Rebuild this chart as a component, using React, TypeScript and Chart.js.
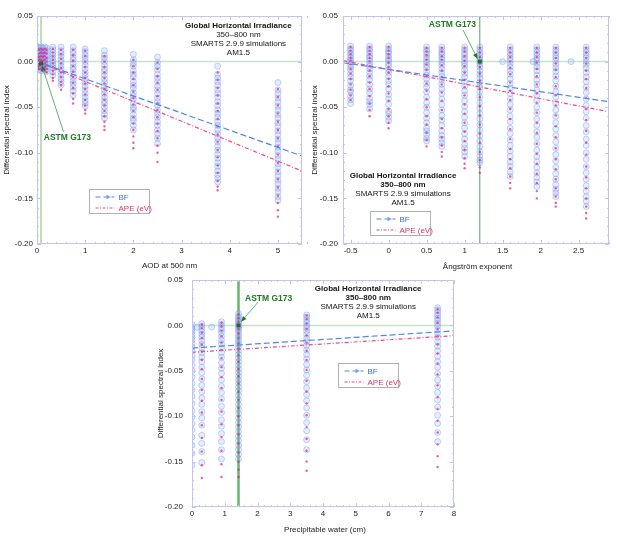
import { useEffect, useRef } from "react";
import { Chart, registerables } from "chart.js";

Chart.register(...registerables);

const FONT = '"Liberation Sans", Arial, Helvetica, sans-serif';

// ---------- shared ----------
const yTicks = [0.05, 0, -0.05, -0.1, -0.15, -0.2];
const headerLines = ["Global Horizontal Irradiance", "350–800 nm", "SMARTS 2.9.9 simulations", "AM1.5"];

// ---------- panel 1: AOD at 500 nm ----------
const aodTicks = [0, 1, 2, 3, 4, 5];
const aodX = [0, 0.04, 0.084, 0.12, 0.16, 0.2, 0.33, 0.5, 0.75, 1, 1.4, 2, 2.5, 3.75, 5];
const aodBF = [
  [0.016, 0.013, 0.011, 0.008, 0.006, 0.003, 0.001, -0.001, -0.004, -0.006, -0.008],
  [0.015, 0.012, 0.01, 0.007, 0.004, 0.002, -0.001, -0.003, -0.006, -0.009],
  [0.016, 0.012, 0.009, 0.006, 0.003, 0.0, -0.002, -0.005, -0.007, -0.01],
  [0.015, 0.013, 0.009, 0.006, 0.003, 0.001, -0.002, -0.005, -0.008],
  [0.016, 0.012, 0.009, 0.005, 0.002, -0.001, -0.004, -0.007, -0.009],
  [0.015, 0.012, 0.008, 0.005, 0.002, -0.002, -0.005, -0.008, -0.011],
  [0.016, 0.013, 0.01, 0.007, 0.004, 0.001, -0.002, -0.004, -0.007, -0.011, -0.015],
  [0.016, 0.012, 0.009, 0.006, 0.002, -0.001, -0.005, -0.008, -0.012, -0.015, -0.019, -0.022, -0.026],
  [0.016, 0.012, 0.009, 0.005, 0.002, -0.002, -0.006, -0.009, -0.013, -0.017, -0.021, -0.024, -0.028, -0.032, -0.037],
  [0.014, 0.011, 0.007, 0.004, 0.0, -0.004, -0.008, -0.012, -0.015, -0.019, -0.023, -0.027, -0.031, -0.035, -0.039, -0.043, -0.046, -0.049],
  [0.012, 0.007, 0.004, 0.0, -0.004, -0.008, -0.011, -0.015, -0.019, -0.023, -0.027, -0.031, -0.035, -0.039, -0.043, -0.046, -0.05, -0.054, -0.058, -0.062],
  [0.008, 0.002, -0.002, -0.005, -0.01, -0.014, -0.017, -0.022, -0.026, -0.029, -0.034, -0.038, -0.041, -0.046, -0.05, -0.053, -0.058, -0.062, -0.065, -0.07, -0.075],
  [0.005, -0.001, -0.005, -0.009, -0.014, -0.018, -0.022, -0.027, -0.031, -0.035, -0.04, -0.044, -0.048, -0.053, -0.057, -0.061, -0.066, -0.07, -0.075, -0.079, -0.084, -0.09],
  [-0.005, -0.014, -0.018, -0.022, -0.026, -0.031, -0.035, -0.039, -0.044, -0.048, -0.053, -0.057, -0.061, -0.066, -0.07, -0.075, -0.079, -0.084, -0.088, -0.093, -0.097, -0.102, -0.106, -0.111, -0.115, -0.12, -0.124, -0.128, -0.132],
  [-0.023, -0.031, -0.035, -0.04, -0.044, -0.049, -0.053, -0.058, -0.062, -0.067, -0.071, -0.076, -0.08, -0.085, -0.089, -0.094, -0.098, -0.103, -0.107, -0.112, -0.116, -0.121, -0.125, -0.13, -0.134, -0.139, -0.143, -0.148, -0.152],
];
const aodAPE = [
  [0.014, 0.01, 0.006, 0.003, 0.0, -0.003, -0.006, -0.009],
  [0.013, 0.009, 0.005, 0.002, -0.002, -0.005, -0.008],
  [0.014, 0.01, 0.006, 0.002, -0.001, -0.004, -0.008],
  [0.013, 0.009, 0.005, 0.001, -0.003, -0.007, -0.01],
  [0.014, 0.01, 0.006, 0.002, -0.002, -0.006, -0.01],
  [0.013, 0.009, 0.004, 0.0, -0.004, -0.008, -0.012],
  [0.014, 0.01, 0.006, 0.002, -0.002, -0.006, -0.01, -0.014, -0.018, -0.021],
  [0.013, 0.008, 0.003, -0.002, -0.007, -0.012, -0.017, -0.022, -0.026, -0.031],
  [0.013, 0.007, 0.001, -0.005, -0.011, -0.017, -0.023, -0.029, -0.035, -0.041, -0.046],
  [0.012, 0.006, 0.0, -0.006, -0.012, -0.018, -0.024, -0.03, -0.036, -0.042, -0.048, -0.053, -0.057],
  [0.006, 0.0, -0.006, -0.012, -0.018, -0.024, -0.03, -0.036, -0.042, -0.048, -0.054, -0.06, -0.066, -0.071, -0.075],
  [0.002, -0.005, -0.012, -0.019, -0.026, -0.033, -0.04, -0.047, -0.054, -0.061, -0.068, -0.075, -0.082, -0.089, -0.095],
  [-0.001, -0.008, -0.016, -0.023, -0.031, -0.038, -0.046, -0.053, -0.061, -0.068, -0.076, -0.084, -0.092, -0.1, -0.11],
  [-0.012, -0.02, -0.029, -0.037, -0.046, -0.054, -0.063, -0.071, -0.08, -0.088, -0.097, -0.105, -0.114, -0.122, -0.131, -0.137, -0.141],
  [-0.03, -0.039, -0.048, -0.057, -0.066, -0.075, -0.084, -0.093, -0.102, -0.111, -0.12, -0.129, -0.138, -0.147, -0.155, -0.163, -0.17],
];
const aodFitX = [0, 5.5];
const aodFitBF = [0.0, -0.1035];
const aodFitAPE = [0.0, -0.12];

// ---------- panel 2: Ångström exponent ----------
const alphaTicks = [-0.5, 0, 0.5, 1, 1.5, 2, 2.5];
const alphaX = [-0.5, -0.25, 0, 0.5, 0.7, 1, 1.2, 1.6, 1.95, 2.2, 2.6];
const alphaStrayX = [1.5, 1.9, 2.4];
const alphaStrayY = [0, 0, 0];
const alphaBF = [
  [0.017, 0.014, 0.012, 0.009, 0.007, 0.004, 0.002, 0.0, -0.003, -0.006, -0.009, -0.013, -0.017, -0.021, -0.026, -0.031, -0.033, -0.038, -0.042, -0.046],
  [0.017, 0.014, 0.012, 0.009, 0.006, 0.004, 0.001, -0.002, -0.005, -0.008, -0.012, -0.016, -0.02, -0.025, -0.03, -0.034, -0.04, -0.044, -0.047, -0.052],
  [0.017, 0.014, 0.011, 0.009, 0.006, 0.003, 0.001, -0.002, -0.005, -0.009, -0.012, -0.016, -0.021, -0.025, -0.03, -0.036, -0.041, -0.047, -0.054, -0.057, -0.061, -0.065],
  [0.016, 0.013, 0.011, 0.008, 0.005, 0.002, -0.001, -0.004, -0.007, -0.011, -0.015, -0.019, -0.024, -0.028, -0.033, -0.039, -0.045, -0.05, -0.056, -0.062, -0.067, -0.073, -0.076, -0.08, -0.084, -0.087],
  [0.016, 0.013, 0.01, 0.008, 0.005, 0.002, -0.001, -0.004, -0.008, -0.012, -0.016, -0.02, -0.025, -0.03, -0.035, -0.041, -0.047, -0.053, -0.059, -0.064, -0.07, -0.076, -0.081, -0.085, -0.089, -0.093],
  [0.016, 0.013, 0.01, 0.007, 0.004, 0.001, -0.002, -0.005, -0.009, -0.013, -0.017, -0.022, -0.027, -0.032, -0.037, -0.043, -0.049, -0.055, -0.061, -0.067, -0.073, -0.079, -0.085, -0.091, -0.095, -0.099, -0.104],
  [0.016, 0.013, 0.01, 0.007, 0.004, 0.002, 0.0, -0.003, -0.006, -0.01, -0.014, -0.018, -0.023, -0.028, -0.033, -0.039, -0.045, -0.051, -0.057, -0.063, -0.069, -0.075, -0.081, -0.087, -0.093, -0.099, -0.104, -0.108, -0.111],
  [0.016, 0.013, 0.01, 0.007, 0.004, 0.001, -0.002, -0.006, -0.01, -0.014, -0.019, -0.024, -0.029, -0.035, -0.041, -0.047, -0.053, -0.06, -0.066, -0.073, -0.079, -0.086, -0.092, -0.098, -0.104, -0.11, -0.115, -0.121, -0.126],
  [0.016, 0.013, 0.01, 0.007, 0.004, 0.001, -0.002, -0.006, -0.01, -0.015, -0.02, -0.025, -0.031, -0.037, -0.043, -0.05, -0.056, -0.063, -0.07, -0.077, -0.083, -0.09, -0.097, -0.104, -0.11, -0.116, -0.122, -0.127, -0.132, -0.137],
  [0.016, 0.013, 0.01, 0.007, 0.004, 0.001, -0.003, -0.007, -0.011, -0.016, -0.021, -0.027, -0.033, -0.039, -0.046, -0.053, -0.06, -0.067, -0.074, -0.081, -0.088, -0.095, -0.102, -0.109, -0.116, -0.123, -0.129, -0.135, -0.14, -0.144, -0.148],
  [0.016, 0.013, 0.01, 0.007, 0.004, 0.0, -0.003, -0.007, -0.012, -0.017, -0.022, -0.028, -0.034, -0.041, -0.048, -0.055, -0.062, -0.07, -0.077, -0.085, -0.092, -0.1, -0.107, -0.115, -0.122, -0.129, -0.136, -0.142, -0.148, -0.153, -0.159],
];
const alphaAPE = [
  [0.016, 0.012, 0.008, 0.004, 0.001, -0.003, -0.008, -0.013, -0.019, -0.025, -0.031, -0.037, -0.042],
  [0.016, 0.012, 0.008, 0.004, 0.0, -0.005, -0.01, -0.016, -0.023, -0.03, -0.038, -0.046, -0.053, -0.06],
  [0.016, 0.012, 0.008, 0.004, -0.001, -0.006, -0.012, -0.019, -0.027, -0.035, -0.043, -0.052, -0.06, -0.067, -0.073],
  [0.015, 0.011, 0.007, 0.002, -0.003, -0.009, -0.016, -0.024, -0.032, -0.041, -0.05, -0.06, -0.069, -0.078, -0.086, -0.093],
  [0.015, 0.011, 0.006, 0.002, -0.004, -0.01, -0.017, -0.025, -0.034, -0.043, -0.053, -0.063, -0.073, -0.083, -0.092, -0.099, -0.104],
  [0.015, 0.011, 0.006, 0.001, -0.005, -0.012, -0.02, -0.028, -0.037, -0.047, -0.057, -0.067, -0.077, -0.087, -0.097, -0.106, -0.112, -0.117],
  [0.015, 0.01, 0.005, 0.0, -0.006, -0.013, -0.021, -0.03, -0.039, -0.049, -0.059, -0.069, -0.079, -0.089, -0.099, -0.108, -0.116, -0.122],
  [0.015, 0.01, 0.005, 0.0, -0.007, -0.014, -0.023, -0.032, -0.042, -0.052, -0.063, -0.074, -0.085, -0.096, -0.107, -0.117, -0.126, -0.133, -0.139],
  [0.015, 0.01, 0.005, -0.001, -0.008, -0.016, -0.025, -0.035, -0.045, -0.056, -0.067, -0.078, -0.09, -0.101, -0.112, -0.123, -0.133, -0.142, -0.15],
  [0.015, 0.01, 0.004, -0.002, -0.009, -0.017, -0.027, -0.037, -0.048, -0.059, -0.071, -0.083, -0.095, -0.107, -0.118, -0.129, -0.139, -0.148, -0.155, -0.159],
  [0.015, 0.01, 0.004, -0.002, -0.01, -0.019, -0.029, -0.04, -0.052, -0.064, -0.076, -0.089, -0.102, -0.115, -0.127, -0.139, -0.15, -0.159, -0.166, -0.172],
];
const alphaFitX = [-0.6, 2.9];
const alphaFitBF = [-0.0012, -0.044];
const alphaFitAPE = [0.001, -0.055];

// ---------- panel 3: precipitable water ----------
const pwTicks = [0, 1, 2, 3, 4, 5, 6, 7, 8];
const pwX = [0, 0.3, 0.9, 1.42, 3.5, 7.5];
const pwStrayX = [0.15, 0.6];
const pwStrayY = [-0.002, -0.002];
const pwBF = [
  [0.001, -0.002, -0.004, -0.007, -0.01, -0.013, -0.016, -0.02, -0.024, -0.028, -0.033, -0.038, -0.044, -0.05, -0.057, -0.064, -0.071, -0.078, -0.086, -0.094, -0.101, -0.108, -0.115, -0.123, -0.132, -0.141, -0.154],
  [0.002, -0.001, -0.004, -0.007, -0.01, -0.013, -0.017, -0.021, -0.025, -0.03, -0.035, -0.04, -0.046, -0.052, -0.059, -0.066, -0.073, -0.08, -0.087, -0.095, -0.102, -0.11, -0.121, -0.13, -0.139, -0.151],
  [0.004, 0.001, -0.002, -0.005, -0.008, -0.012, -0.016, -0.02, -0.025, -0.03, -0.035, -0.041, -0.047, -0.053, -0.06, -0.067, -0.074, -0.081, -0.089, -0.096, -0.104, -0.111, -0.119, -0.128, -0.137, -0.147],
  [0.013, 0.01, 0.008, 0.006, 0.004, 0.002, 0.0, -0.002, -0.004, -0.006, -0.009, -0.012, -0.015, -0.018, -0.021, -0.024, -0.028, -0.032, -0.036, -0.04, -0.044, -0.048, -0.052, -0.056, -0.06, -0.064, -0.068, -0.072, -0.077, -0.082, -0.087, -0.092, -0.097, -0.102, -0.107, -0.112, -0.117, -0.122, -0.127, -0.132, -0.137, -0.142, -0.147],
  [0.0115, 0.009, 0.006, 0.003, 0.0, -0.003, -0.006, -0.01, -0.014, -0.018, -0.022, -0.027, -0.032, -0.037, -0.043, -0.049, -0.055, -0.062, -0.069, -0.076, -0.083, -0.091, -0.099, -0.107, -0.116, -0.126, -0.137],
  [0.0195, 0.017, 0.014, 0.011, 0.008, 0.005, 0.002, -0.001, -0.005, -0.009, -0.013, -0.018, -0.023, -0.028, -0.034, -0.04, -0.046, -0.053, -0.06, -0.067, -0.074, -0.082, -0.09, -0.099, -0.108, -0.118, -0.128],
];
const pwAPE = [
  [0.0, -0.004, -0.009, -0.015, -0.022, -0.03, -0.039, -0.049, -0.06, -0.072, -0.085, -0.098, -0.112, -0.126, -0.14, -0.155, -0.17],
  [0.001, -0.003, -0.008, -0.014, -0.021, -0.029, -0.038, -0.048, -0.059, -0.071, -0.083, -0.096, -0.11, -0.124, -0.139, -0.154, -0.168],
  [0.003, -0.001, -0.006, -0.012, -0.019, -0.027, -0.036, -0.046, -0.057, -0.069, -0.082, -0.095, -0.109, -0.123, -0.138, -0.153, -0.167],
  [0.012, 0.008, 0.004, 0.0, -0.004, -0.009, -0.014, -0.02, -0.026, -0.033, -0.04, -0.048, -0.056, -0.064, -0.073, -0.082, -0.091, -0.1, -0.11, -0.12, -0.13, -0.14, -0.15, -0.159, -0.167],
  [0.011, 0.007, 0.002, -0.004, -0.011, -0.019, -0.028, -0.038, -0.049, -0.061, -0.073, -0.086, -0.099, -0.112, -0.125, -0.138, -0.15, -0.16],
  [0.018, 0.014, 0.009, 0.003, -0.004, -0.012, -0.021, -0.031, -0.042, -0.054, -0.066, -0.079, -0.092, -0.105, -0.118, -0.131, -0.144, -0.156],
];
const pwFitX = [0, 8];
const pwFitBF = [-0.025, -0.006];
const pwFitAPE = [-0.0296, -0.0113];

// ---------- colours ----------
const BF_LINE = "#4f86ee";
const APE_LINE = "#f04a8a";
const FRAME = "#c4c4f2";

type Pt = [number, number];
type Spec = {
  xs: number[]; bf: number[][]; ape: number[][];
  strayX: number[]; strayY: number[];
  fitX: number[]; fitBF: number[]; fitAPE: number[];
  xMin: number; xMax: number; xTicks: number[]; xMinor: number;
  xTitle: string; xTitleX: number; xTitleDy: number;
  yTitlePad: number; yTickPad: number; xAxisH: number;
  refX: number; refY: number; refColor: string; refWidth: number;
  astmAt: Pt; arrowFrom: Pt; arrowTo: Pt;
  titleAt: Pt; titleBold: number; legendAt: Pt;
};

const aodPanel: Spec = {
  xs: aodX, bf: aodBF, ape: aodAPE, strayX: [], strayY: [],
  fitX: aodFitX, fitBF: aodFitBF, fitAPE: aodFitAPE,
  xMin: 0, xMax: 5.5, xTicks: aodTicks, xMinor: 0.2,
  xTitle: "AOD at 500 nm", xTitleX: 2.75, xTitleDy: 21.5,
  yTitlePad: 2, yTickPad: 4, xAxisH: 28,
  refX: 0.084, refY: -0.002, refColor: "#bcdcbc", refWidth: 2,
  astmAt: [0.63, -0.0838], arrowFrom: [0.55, -0.077], arrowTo: [0.1, -0.004],
  titleAt: [4.18, 0.039], titleBold: 1, legendAt: [1.07, -0.1397],
};

const alphaPanel: Spec = {
  xs: alphaX, bf: alphaBF, ape: alphaAPE, strayX: alphaStrayX, strayY: alphaStrayY,
  fitX: alphaFitX, fitBF: alphaFitBF, fitAPE: alphaFitAPE,
  xMin: -0.6, xMax: 2.9, xTicks: alphaTicks, xMinor: 0.1,
  xTitle: "Ångström exponent", xTitleX: 1.17, xTitleDy: 23,
  yTitlePad: 4, yTickPad: 5, xAxisH: 28,
  refX: 1.2, refY: 0.0, refColor: "#5a9e62", refWidth: 1,
  astmAt: [0.84, 0.0401], arrowFrom: [0.98, 0.0346], arrowTo: [1.17, 0.003],
  titleAt: [0.19, -0.1254], titleBold: 2, legendAt: [-0.24, -0.1638],
};

const pwPanel: Spec = {
  xs: pwX, bf: pwBF, ape: pwAPE, strayX: pwStrayX, strayY: pwStrayY,
  fitX: pwFitX, fitBF: pwFitBF, fitAPE: pwFitAPE,
  xMin: 0, xMax: 8, xTicks: pwTicks, xMinor: 0.2,
  xTitle: "Precipitable water (cm)", xTitleX: 4.06, xTitleDy: 23,
  yTitlePad: 0.5, yTickPad: 9, xAxisH: 30,
  refX: 1.42, refY: 0.0, refColor: "#66b566", refWidth: 2.5,
  astmAt: [2.34, 0.0298], arrowFrom: [2.02, 0.0258], arrowTo: [1.5, 0.004],
  titleAt: [5.38, 0.04], titleBold: 2, legendAt: [4.46, -0.0414],
};

function columnPoints(xs: number[], cols: number[][]) {
  return xs.flatMap((x, i) => cols[i].map((y) => ({ x, y })));
}

function pairPoints(xs: number[], ys: number[]) {
  return xs.map((x, i) => ({ x, y: ys[i] }));
}

function seg(ctx: CanvasRenderingContext2D, x1: number, y1: number, x2: number, y2: number) {
  ctx.beginPath();
  ctx.moveTo(x1, y1);
  ctx.lineTo(x2, y2);
  ctx.stroke();
}

function isMajor(v: number, ticks: number[]) {
  return ticks.some((t) => Math.abs(t - v) < 1e-6);
}

function decorations(p: Spec) {
  return {
    id: "decor",
    beforeDatasetsDraw(chart: any) {
      const { ctx, chartArea: a } = chart;
      const x = chart.scales.x;
      const y = chart.scales.y;
      ctx.save();
      ctx.beginPath();
      ctx.rect(a.left, a.top, a.right - a.left, a.bottom - a.top);
      ctx.clip();
      ctx.strokeStyle = "#c6e4c6";
      ctx.lineWidth = 1.5;
      const y0 = y.getPixelForValue(0);
      seg(ctx, a.left, y0, a.right, y0);
      ctx.strokeStyle = p.refColor;
      ctx.lineWidth = p.refWidth;
      const xr = x.getPixelForValue(p.refX);
      seg(ctx, xr, a.top, xr, a.bottom);
      ctx.restore();
    },
    afterDatasetsDraw(chart: any) {
      const { ctx, chartArea: a } = chart;
      const x = chart.scales.x;
      const y = chart.scales.y;
      ctx.save();

      // frame with inward ticks
      ctx.strokeStyle = FRAME;
      ctx.lineWidth = 1;
      ctx.strokeRect(a.left + 0.5, a.top + 0.5, a.right - a.left - 1, a.bottom - a.top - 1);
      const nx = Math.round((p.xMax - p.xMin) / p.xMinor);
      for (let i = 0; i <= nx; i++) {
        const v = p.xMin + i * p.xMinor;
        const px = Math.round(x.getPixelForValue(v)) + 0.5;
        const len = isMajor(v, p.xTicks) ? 4 : 2;
        seg(ctx, px, a.bottom, px, a.bottom - len);
        seg(ctx, px, a.top, px, a.top + len);
      }
      for (let i = 0; i <= 25; i++) {
        const v = -0.2 + i * 0.01;
        const py = Math.round(y.getPixelForValue(v)) + 0.5;
        const len = isMajor(v, yTicks) ? 4 : 2;
        seg(ctx, a.left, py, a.left + len, py);
        seg(ctx, a.right, py, a.right - len, py);
      }

      // x axis title
      ctx.font = `8px ${FONT}`;
      ctx.textAlign = "center";
      ctx.textBaseline = "middle";
      ctx.fillStyle = "#222";
      ctx.fillText(p.xTitle, x.getPixelForValue(p.xTitleX), a.bottom + p.xTitleDy);

      // reference (ASTM G173) point, arrow and label
      const rx = x.getPixelForValue(p.refX);
      const ry = y.getPixelForValue(p.refY);
      ctx.fillStyle = "#1d6b2a";
      ctx.fillRect(rx - 2, ry - 2, 4, 4);
      const fx = x.getPixelForValue(p.arrowFrom[0]);
      const fy = y.getPixelForValue(p.arrowFrom[1]);
      const tx = x.getPixelForValue(p.arrowTo[0]);
      const ty = y.getPixelForValue(p.arrowTo[1]);
      ctx.strokeStyle = "#5fb56a";
      ctx.lineWidth = 1;
      seg(ctx, fx, fy, tx, ty);
      const ang = Math.atan2(ty - fy, tx - fx);
      ctx.fillStyle = "#1d7a2a";
      ctx.beginPath();
      ctx.moveTo(tx, ty);
      ctx.lineTo(tx - 6 * Math.cos(ang - 0.4), ty - 6 * Math.sin(ang - 0.4));
      ctx.lineTo(tx - 6 * Math.cos(ang + 0.4), ty - 6 * Math.sin(ang + 0.4));
      ctx.closePath();
      ctx.fill();
      ctx.font = `bold 8.5px ${FONT}`;
      ctx.fillStyle = "#1f7a24";
      ctx.fillText("ASTM G173", x.getPixelForValue(p.astmAt[0]), y.getPixelForValue(p.astmAt[1]));

      // header block
      const hx = x.getPixelForValue(p.titleAt[0]);
      const hy = y.getPixelForValue(p.titleAt[1]);
      ctx.fillStyle = "#151515";
      headerLines.forEach((t, i) => {
        ctx.font = `${i < p.titleBold ? "bold " : ""}8px ${FONT}`;
        ctx.fillText(t, hx, hy + i * 8.9);
      });

      // legend
      const lx = Math.round(x.getPixelForValue(p.legendAt[0])) + 0.5;
      const ly = Math.round(y.getPixelForValue(p.legendAt[1])) + 0.5;
      ctx.fillStyle = "#ffffff";
      ctx.fillRect(lx, ly, 60, 24);
      ctx.strokeStyle = "#b0b0b0";
      ctx.strokeRect(lx, ly, 60, 24);
      ctx.lineWidth = 1.2;
      ctx.strokeStyle = BF_LINE;
      ctx.setLineDash([5, 3]);
      seg(ctx, lx + 6, ly + 7.5, lx + 25, ly + 7.5);
      ctx.strokeStyle = APE_LINE;
      ctx.setLineDash([3, 1.5, 1, 1.5]);
      seg(ctx, lx + 6, ly + 18.5, lx + 25, ly + 18.5);
      ctx.setLineDash([]);
      ctx.fillStyle = "rgba(110, 150, 240, 0.8)";
      ctx.beginPath();
      ctx.moveTo(lx + 17, ly + 5);
      ctx.lineTo(lx + 21.5, ly + 7.5);
      ctx.lineTo(lx + 17, ly + 10);
      ctx.closePath();
      ctx.fill();
      ctx.font = `8px ${FONT}`;
      ctx.textAlign = "left";
      ctx.fillStyle = "#3a6fe0";
      ctx.fillText("BF", lx + 29, ly + 7.8);
      ctx.fillStyle = "#e8306f";
      ctx.fillText("APE (eV)", lx + 29, ly + 19);
      ctx.restore();
    },
  };
}

function Panel({ spec, left, top, width, height }: { spec: Spec; left: number; top: number; width: number; height: number }) {
  const chartRef = useRef<HTMLCanvasElement>(null);
  const chartInstance = useRef<Chart | null>(null);

  useEffect(() => {
    if (!chartRef.current) return;
    if (chartInstance.current) chartInstance.current.destroy();

    const strays = pairPoints(spec.strayX, spec.strayY);

    chartInstance.current = new Chart(chartRef.current, {
      type: "scatter",
      data: {
        datasets: [
          {
            type: "line",
            label: "BF fit",
            data: pairPoints(spec.fitX, spec.fitBF),
            borderColor: BF_LINE,
            borderWidth: 1.2,
            borderDash: [6, 3],
            pointRadius: 0,
            fill: false,
            order: 0,
          } as any,
          {
            type: "line",
            label: "APE fit",
            data: pairPoints(spec.fitX, spec.fitAPE),
            borderColor: APE_LINE,
            borderWidth: 1.2,
            borderDash: [4, 2, 1, 2],
            pointRadius: 0,
            fill: false,
            order: 0,
          } as any,
          {
            label: "APE (eV)",
            data: columnPoints(spec.xs, spec.ape),
            pointStyle: "circle",
            pointRadius: 1.2,
            borderWidth: 0,
            backgroundColor: "rgba(225, 35, 120, 0.72)",
            order: 1,
          },
          {
            label: "BF",
            data: [...columnPoints(spec.xs, spec.bf), ...strays],
            pointStyle: "circle",
            pointRadius: 3,
            borderColor: "rgba(105, 145, 240, 0.38)",
            backgroundColor: "rgba(150, 185, 250, 0.25)",
            borderWidth: 1,
            order: 2,
          },
        ],
      },
      options: {
        responsive: true,
        maintainAspectRatio: false,
        animation: false,
        layout: { padding: { top: 16, right: 8, left: 0, bottom: 0 } },
        plugins: { legend: { display: false }, tooltip: { enabled: false } },
        scales: {
          x: {
            type: "linear",
            min: spec.xMin,
            max: spec.xMax,
            afterBuildTicks: (s: any) => {
              s.ticks = spec.xTicks.map((v) => ({ value: v }));
            },
            afterFit: (s: any) => {
              s.height = spec.xAxisH;
            },
            grid: { display: false, drawTicks: false },
            border: { display: false },
            ticks: {
              padding: 2,
              color: "#222",
              maxRotation: 0,
              autoSkip: false,
              font: { family: FONT, size: 8 },
              callback: (v: any) => String(v),
            },
            title: { display: false },
          },
          y: {
            type: "linear",
            min: -0.2,
            max: 0.05,
            afterBuildTicks: (s: any) => {
              s.ticks = yTicks.map((v) => ({ value: v }));
            },
            afterFit: (s: any) => {
              s.width = 37;
            },
            grid: { display: false, drawTicks: false },
            border: { display: false },
            ticks: {
              padding: spec.yTickPad,
              color: "#222",
              font: { family: FONT, size: 8 },
              callback: (v: any) => (Math.abs(Number(v)) < 1e-9 ? "0.00" : Number(v).toFixed(2)),
            },
            title: {
              display: true,
              text: "Differential spectral index",
              color: "#222",
              font: { family: FONT, size: 8 },
              padding: { top: spec.yTitlePad, bottom: 0 },
            },
          },
        },
      },
      plugins: [decorations(spec)],
    });

    return () => {
      if (chartInstance.current) {
        chartInstance.current.destroy();
        chartInstance.current = null;
      }
    };
  }, [spec]);

  return (
    <div style={{ position: "absolute", left, top, width, height }}>
      <canvas ref={chartRef}></canvas>
    </div>
  );
}

export default function App() {
  return (
    <div style={{ position: "absolute", left: 0, top: 0, width: 617, height: 537, background: "#fff" }}>
      <Panel spec={aodPanel} left={0} top={0} width={310} height={272} />
      <Panel spec={alphaPanel} left={306} top={0} width={311} height={272} />
      <Panel spec={pwPanel} left={155} top={264} width={307} height={273} />
    </div>
  );
}
